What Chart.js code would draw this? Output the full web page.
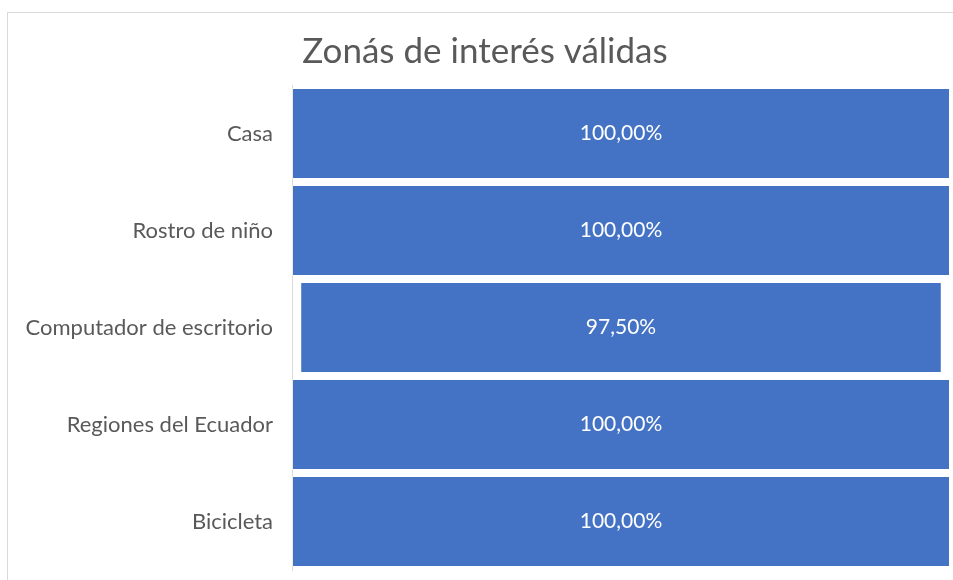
<!DOCTYPE html>
<html>
<head>
<meta charset="utf-8">
<script src="https://cdn.jsdelivr.net/npm/chart.js@4"></script>
<style>
  html, body { margin: 0; background: #fff; overflow: hidden; width: 953px; height: 580px; }
  #frame { position: absolute; left: 7px; top: 12px; width: 960px; height: 600px; border: 1px solid #d9d9d9; }
  #funnel { position: absolute; left: 0; top: 0; display: block; }
</style>
</head>
<body>
<div id="frame"></div>
<canvas id="funnel" width="953" height="580"></canvas>
<script>
// Funnel: valid areas of interest
const categories = ["Casa", "Rostro de niño", "Computador de escritorio", "Regiones del Ecuador", "Bicicleta"];
const values = [100, 100, 97.5, 100, 100];

// centre each bar on 50 so shorter bars shrink from both sides
const ranges = values.map(v => [(100 - v) / 2, (100 + v) / 2]);

const barLabels = {
  id: "barLabels",
  afterDatasetsDraw(chart) {
    const ctx = chart.ctx;
    ctx.save();
    ctx.fillStyle = "#ffffff";
    ctx.font = "21px Lato";
    ctx.textAlign = "center";
    ctx.textBaseline = "middle";
    chart.getDatasetMeta(0).data.forEach((bar, i) => {
      const txt = values[i].toFixed(2).replace(".", ",") + "%";
      const cx = (bar.x + bar.base) / 2;
      ctx.fillText(txt, cx, bar.y);
    });
    ctx.restore();
  }
};

new Chart(document.getElementById("funnel"), {
  type: "bar",
  data: {
    labels: categories,
    datasets: [{
      data: ranges,
      backgroundColor: "#4472c4",
      borderColor: "rgba(255,255,255,0.45)",
      borderWidth: 1,
      borderSkipped: false,
      barPercentage: 0.94,
      categoryPercentage: 1
    }]
  },
  options: {
    indexAxis: "y",
    responsive: false,
    animation: false,
    layout: { padding: { left: 20, right: 3, top: 0, bottom: 10 } },
    scales: {
      x: { display: false, min: 0, max: 100 },
      y: {
        grid: { display: false, drawTicks: false },
        border: { display: true, color: "#d9d9d9", width: 1 },
        ticks: { color: "#595959", font: { family: "Lato", size: 22 }, padding: 19 },
        afterFit: s => {
          s.width = 272;
          s.paddingTop = 0;
          s.paddingBottom = 0;
        }
      }
    },
    plugins: {
      legend: { display: false },
      tooltip: { enabled: false },
      title: {
        display: true,
        text: "Zonás de interés válidas",
        color: "#595959",
        font: { family: "Lato", size: 35, weight: "normal" },
        padding: { top: 31, bottom: 12 }
      }
    }
  },
  plugins: [barLabels]
});
</script>
</body>
</html>
